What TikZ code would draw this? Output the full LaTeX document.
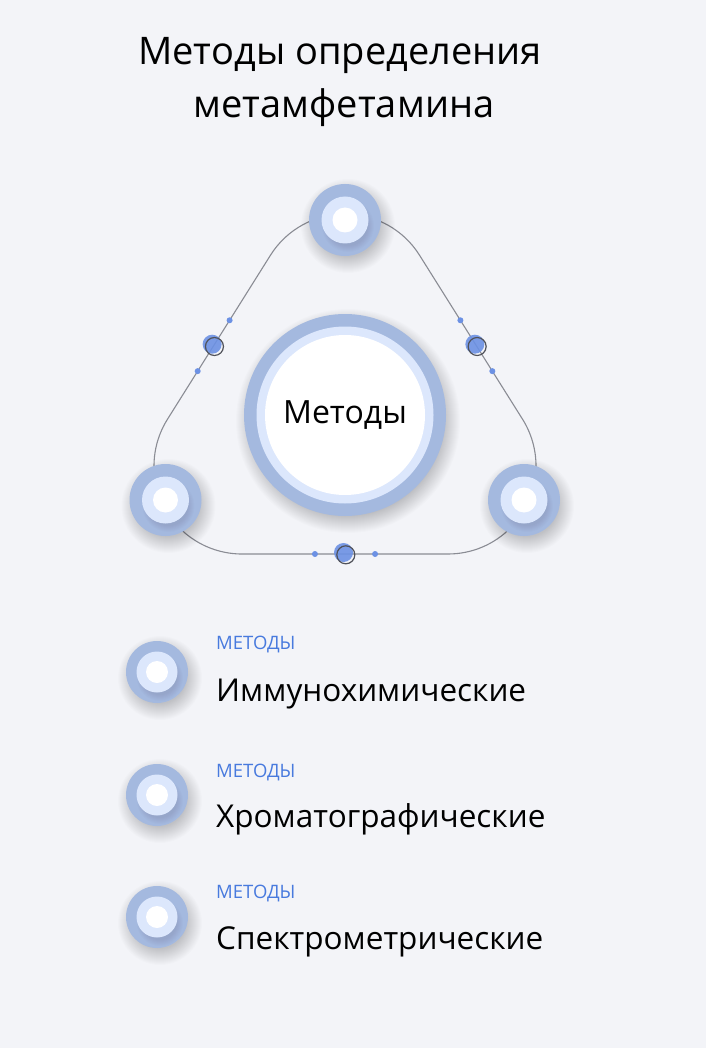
\documentclass[tikz,border=0pt]{standalone}
\usepackage{fontspec}
\setmainfont{Open Sans}

\definecolor{pagebg}{RGB}{243,244,248}
\definecolor{ringout}{RGB}{164,185,223}
\definecolor{ringin}{RGB}{220,231,252}
\definecolor{dotblue}{RGB}{108,145,228}
\definecolor{capblue}{RGB}{72,122,222}
\definecolor{trackgray}{RGB}{138,140,148}
\definecolor{hubgray}{RGB}{80,82,90}

% soft shadow: stacked faint discs, offset down and right
% #1 centre (a name), #2 radius, #3 spread, #4 opacity per layer
\newcommand\castshadow[4]{%
  \foreach \k in {0,...,#3} {
    \fill[black, opacity=#4] ([shift={(3,-6)}]#1) circle ({#2+#3-\k});
  }%
}

\tikzset{
  title/.style={font=\fontsize{38}{45}\selectfont, text=black, inner sep=0pt},
  track/.style={draw=trackgray, line width=1.1pt},
  badge/.style={circle, fill=ringout, inner sep=0pt, minimum size=72pt},
  badgein/.style={circle, fill=ringin, inner sep=0pt, minimum size=47pt},
  badgedot/.style={circle, fill=white, inner sep=0pt, minimum size=25pt},
  tick/.style={circle, fill=dotblue, inner sep=0pt, minimum size=6pt},
  hubfill/.style={circle, fill=dotblue, fill opacity=0.9, inner sep=0pt, minimum size=19pt},
  hubring/.style={circle, draw=hubgray, line width=1.2pt, inner sep=0pt, minimum size=18pt},
  coreout/.style={circle, fill=ringout, inner sep=0pt, minimum size=202pt},
  coremid/.style={circle, fill=ringin, inner sep=0pt, minimum size=177pt},
  corein/.style={circle, fill=white, inner sep=0pt, minimum size=160pt,
      font=\fontsize{32}{38}\selectfont},
  chip/.style={circle, fill=ringout, inner sep=0pt, minimum size=62pt},
  chipin/.style={circle, fill=ringin, inner sep=0pt, minimum size=41pt},
  chipdot/.style={circle, fill=white, inner sep=0pt, minimum size=22pt},
  tag/.style={anchor=base west, inner sep=0pt, text=capblue, font=\fontsize{18.5}{19}\selectfont},
  entry/.style={anchor=base west, inner sep=0pt, font=\fontsize{31.5}{34}\selectfont},
}

\begin{document}
\begin{tikzpicture}[x=1pt,y=1pt]
    \fill[pagebg] (0,0) rectangle (706,-1048);
    \useasboundingbox (0,0) rectangle (706,-1048);

    % heading
    \node[title, anchor=base] (head-1) at (340,-65) {Методы определения};
    \node[title, anchor=base] (head-2) at (344,-118) {метамфетамина};

    % rounded triangle track, with the marks along its sides
    \draw[track] (242,-554)
        -- coordinate[pos=0.354] (b-1) coordinate[pos=0.5] (b-2) coordinate[pos=0.646] (b-3) (448,-554)
        arc[start angle=-90, end angle=31.9, radius=88]
        -- coordinate[pos=0.295] (r-1) coordinate[pos=0.45] (r-2) coordinate[pos=0.605] (r-3) (419.7,-255.5)
        arc[start angle=31.9, end angle=148.1, radius=88]
        -- coordinate[pos=0.395] (l-3) coordinate[pos=0.55] (l-2) coordinate[pos=0.705] (l-1) (167.3,-419.5)
        arc[start angle=148.1, end angle=270, radius=88]
        -- cycle;

    % corner badges
    \foreach \c/\x/\y in {top/345/-220, left/165.5/-500, right/524/-500} {
        \coordinate (\c-pos) at (\x,\y);
        \castshadow{\c-pos}{31}{16}{0.011}
        \node[badge] (\c) at (\c-pos) {};
        \castshadow{\c}{20}{6}{0.012}
        \node[badgein] (\c-in) at (\c) {};
        \node[badgedot] (\c-dot) at (\c) {};
    }

    % side marks
    \foreach \s in {l, r, b} {
        \node[tick] (\s-1-tick) at (\s-1) {};
        \node[tick] (\s-3-tick) at (\s-3) {};
        \node[hubfill] (\s-2-fill) at ([shift={(-1.5,1.5)}]\s-2) {};
        \node[hubring] (\s-2-ring) at ([shift={(0.8,-0.8)}]\s-2) {};
    }

    % centre
    \coordinate (core-pos) at (345,-415);
    \castshadow{core-pos}{94}{18}{0.011}
    \node[coreout] (core) at (core-pos) {};
    \node[coremid] (core-mid) at (core) {};
    \node[corein] (core-in) at (core) {Методы};

    % list
    \foreach \i/\y in {1/-672, 2/-795, 3/-917} {
        \coordinate (m-\i-pos) at (157,\y);
        \castshadow{m-\i-pos}{26}{16}{0.011}
        \node[chip] (m-\i) at (m-\i-pos) {};
        \castshadow{m-\i}{17}{6}{0.012}
        \node[chipin] (m-\i-in) at (m-\i) {};
        \node[chipdot] (m-\i-dot) at (m-\i) {};
    }
    \node[tag] (m-1-tag) at (216,-649.5) {МЕТОДЫ};
    \node[entry] (m-1-name) at (216,-701) {Иммунохимические};
    \node[tag] (m-2-tag) at (216,-777) {МЕТОДЫ};
    \node[entry] (m-2-name) at (216,-827) {Хроматографические};
    \node[tag] (m-3-tag) at (216,-898) {МЕТОДЫ};
    \node[entry] (m-3-name) at (216,-949) {Спектрометрические};

\end{tikzpicture}
\end{document}
